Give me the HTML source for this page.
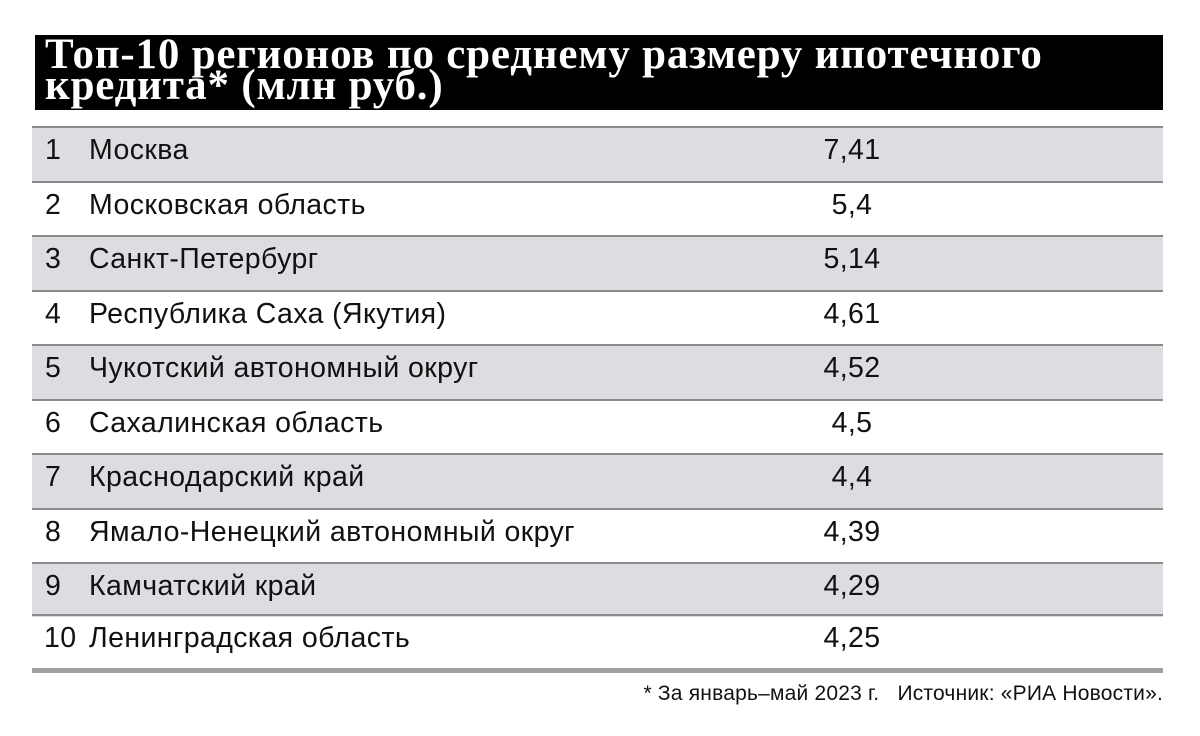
<!DOCTYPE html>
<html><head><meta charset="utf-8"><style>
body{margin:0;width:1200px;height:736px;background:#fff;position:relative;overflow:hidden;font-family:"Liberation Sans","DejaVu Sans",sans-serif;}
.title{position:absolute;left:35px;top:35px;width:1128px;height:75px;background:#000;color:#fff;font-family:"Liberation Serif","DejaVu Serif",serif;font-weight:bold;font-size:43px;line-height:31px;padding:4px 0 0 10px;box-sizing:border-box;letter-spacing:0.8px;white-space:nowrap;}
.row{position:absolute;left:32px;width:1131px;height:54.5px;border-top:2px solid #8a8a8a;box-sizing:border-box;font-size:28.5px;color:#111;letter-spacing:0.4px;}
.row.g{background:#dcdde0;}
.n{position:absolute;left:13px;top:6px;}
.r{position:absolute;left:57px;top:6px;}
.v{position:absolute;left:730px;width:180px;text-align:center;top:6px;}
.bot{position:absolute;left:32px;top:668px;width:1131px;height:5px;background:#a0a0a0;}
.foot{position:absolute;right:37px;top:682px;font-size:21px;color:#111;letter-spacing:0.2px;}
</style></head><body>
<div class="title">Топ-10 регионов по среднему размеру ипотечного<br>кредита* (млн руб.)</div>
<div class="row g" style="top:126px"><span class="n">1</span><span class="r">Москва</span><span class="v">7,41</span></div>
<div class="row" style="top:180.5px"><span class="n">2</span><span class="r">Московская область</span><span class="v">5,4</span></div>
<div class="row g" style="top:235px"><span class="n">3</span><span class="r">Санкт-Петербург</span><span class="v">5,14</span></div>
<div class="row" style="top:289.5px"><span class="n">4</span><span class="r">Республика Саха (Якутия)</span><span class="v">4,61</span></div>
<div class="row g" style="top:344px"><span class="n">5</span><span class="r">Чукотский автономный округ</span><span class="v">4,52</span></div>
<div class="row" style="top:398.5px"><span class="n">6</span><span class="r">Сахалинская область</span><span class="v">4,5</span></div>
<div class="row g" style="top:453px"><span class="n">7</span><span class="r">Краснодарский край</span><span class="v">4,4</span></div>
<div class="row" style="top:507.5px"><span class="n">8</span><span class="r">Ямало-Ненецкий автономный округ</span><span class="v">4,39</span></div>
<div class="row g" style="top:562px"><span class="n">9</span><span class="r">Камчатский край</span><span class="v">4,29</span></div>
<div class="row" style="top:613.5px"><span class="n" style="left:12px">10</span><span class="r">Ленинградская область</span><span class="v">4,25</span></div>
<div class="bot"></div>
<div class="foot">* За январь–май 2023 г. &nbsp;&nbsp;Источник: «РИА Новости».</div>
</body></html>
